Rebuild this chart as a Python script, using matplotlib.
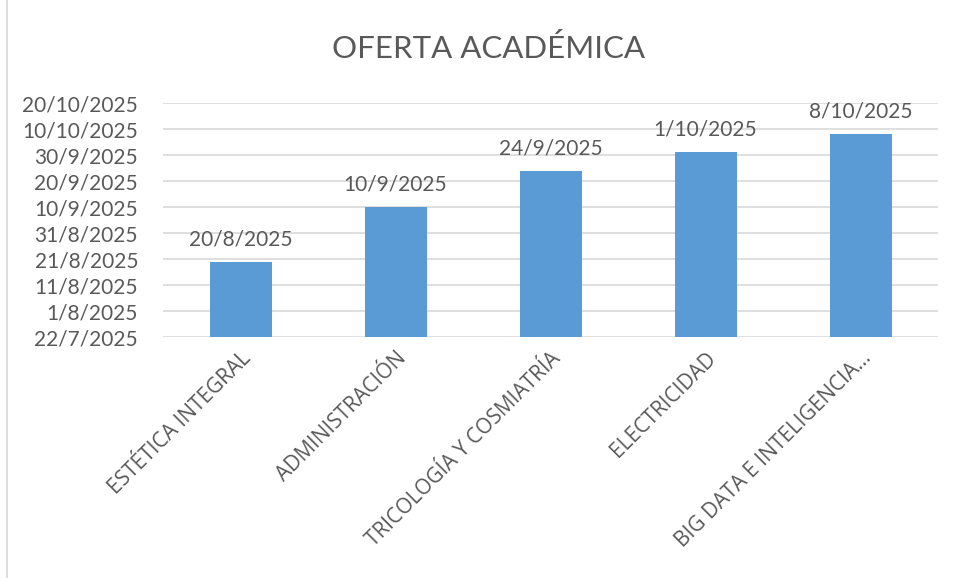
import datetime as dt
import matplotlib
matplotlib.use("Agg")
import matplotlib.pyplot as plt
import matplotlib.dates as mdates
from matplotlib.ticker import FuncFormatter, FixedLocator

categories = ["ESTÉTICA INTEGRAL", "ADMINISTRACIÓN", "TRICOLOGÍA Y COSMIATRÍA",
              "ELECTRICIDAD", "BIG DATA E INTELIGENCIA…"]
fechas = [dt.date(2025, 8, 20), dt.date(2025, 9, 10), dt.date(2025, 9, 24),
          dt.date(2025, 10, 1), dt.date(2025, 10, 8)]
y_min = dt.date(2025, 7, 22)
y_max = dt.date(2025, 10, 20)
y_step = 10  # days

TXT = "#595959"
BAR = "#5B9BD5"
GRID = "#D9D9D9"

plt.rcParams["font.family"] = ["Lato", "DejaVu Sans"]

fig = plt.figure(figsize=(9.56, 5.78), dpi=100)
fig.patches.append(plt.Rectangle((7 / 956, -0.01), 1.0, 1.02, transform=fig.transFigure,
                                 fill=False, edgecolor="#D9D9D9", linewidth=1.2))
ax = fig.add_axes([163 / 956, 1 - 337 / 578, (938 - 163) / 956, (337 - 103) / 578])

x = list(range(len(categories)))
base = mdates.date2num(y_min)
vals = [mdates.date2num(d) - base for d in fechas]
ax.bar(x, vals, width=0.4, bottom=base, color=BAR, zorder=3)

for xi, d, v in zip(x, fechas, vals):
    ax.annotate(f"{d.day}/{d.month}/{d.year}", (xi, base + v), xytext=(0, 9),
                textcoords="offset points", ha="center", va="bottom",
                fontsize=15, color=TXT)

ticks = [base + i * y_step for i in range(int((mdates.date2num(y_max) - base) // y_step) + 1)]
ax.yaxis.set_major_locator(FixedLocator(ticks))

def fmt(v, pos):
    d = mdates.num2date(v)
    return f"{d.day}/{d.month}/{d.year}"

ax.yaxis.set_major_formatter(FuncFormatter(fmt))
ax.set_ylim(base, mdates.date2num(y_max))
ax.set_xlim(-0.5, len(categories) - 0.5)
ax.grid(axis="y", color=GRID, linewidth=1.2, zorder=0)
ax.set_axisbelow(True)
for s in ax.spines.values():
    s.set_visible(False)
ax.tick_params(axis="both", length=0, colors=TXT)
ax.tick_params(axis="y", labelsize=15, pad=18)
ax.set_xticks(x)
ax.set_xticklabels(categories, rotation=45, ha="right", rotation_mode="anchor",
                   fontsize=15, color=TXT, family=["Open Sans", "DejaVu Sans"])
ax.tick_params(axis="x", pad=8)

fig.text(488 / 956, 1 - 48 / 578, "OFERTA ACADÉMICA", ha="center", va="center",
         fontsize=22.5, color=TXT)

fig.savefig("out.png", dpi=100)
